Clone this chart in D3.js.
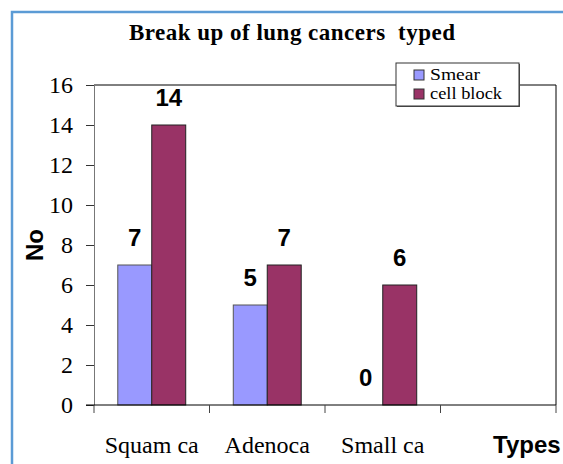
<!DOCTYPE html>
<html>
<head>
<meta charset="utf-8">
<script src="https://cdn.jsdelivr.net/npm/d3@7"></script>
<style>
  body { margin: 0; background: #fff; }
  svg { display: block; }
</style>
</head>
<body>
<div class="container"></div>
<script>
(function(){

    // chart data
    var categories = ["Squam ca", "Adenoca", "Small ca", ""];
    var seriesNames = ["Smear", "cell block"];
    var smear = [7, 5, 0, null];
    var cellBlock = [14, 7, 6, null];
    var yTicks = [0, 2, 4, 6, 8, 10, 12, 14, 16];
    var colors = ["#9999ff", "#993366"];

    var W = 563, H = 464;
    var left = 94, right = 556, top = 85, bottom = 405;

    var svg = d3.select(".container").append("svg")
        .attr("width", W)
        .attr("height", H);

    // outer frame
    svg.append("rect")
        .attr("x", 12).attr("y", 12)
        .attr("width", W + 10).attr("height", H + 10)
        .attr("fill", "none")
        .attr("stroke", "#5b9bd5")
        .attr("stroke-width", 2.5);

    var x = d3.scaleBand()
        .domain(categories)
        .range([left, right]);

    var x1 = d3.scaleBand()
        .domain(seriesNames)
        .range([0, x.bandwidth()])
        .paddingInner(0)
        .paddingOuter(0.7);

    var y = d3.scaleLinear()
        .domain([0, 16])
        .range([bottom, top]);

    // plot area border (top, right)
    svg.append("path")
        .attr("d", "M" + left + "," + top + "H" + right + "V" + bottom)
        .attr("fill", "none")
        .attr("stroke", "#000")
        .attr("stroke-width", 1);

    // bars
    var rows = categories.map(function(c, i) {
        return { cat: c, vals: [smear[i], cellBlock[i]] };
    });

    var groups = svg.selectAll("g.cat")
        .data(rows)
        .enter().append("g")
        .attr("class", "cat")
        .attr("transform", function(d) { return "translate(" + x(d.cat) + ",0)"; });

    groups.selectAll("rect")
        .data(function(d) {
            return d.vals.map(function(v, j) { return { name: seriesNames[j], v: v, j: j }; })
                .filter(function(e) { return e.v !== null && e.v > 0; });
        })
        .enter().append("rect")
        .attr("x", function(d) { return x1(d.name); })
        .attr("y", function(d) { return y(d.v); })
        .attr("width", x1.bandwidth())
        .attr("height", function(d) { return y(0) - y(d.v); })
        .attr("fill", function(d) { return colors[d.j]; })
        .attr("stroke", function(d) { return d.j === 0 ? "#555" : "#222"; })
        .attr("stroke-width", 1);

    groups.selectAll("text.val")
        .data(function(d) {
            return d.vals.map(function(v, j) { return { name: seriesNames[j], v: v }; })
                .filter(function(e) { return e.v !== null; });
        })
        .enter().append("text")
        .attr("class", "val")
        .attr("x", function(d) { return x1(d.name) + x1.bandwidth() / 2; })
        .attr("y", function(d) { return y(d.v) - 19; })
        .attr("text-anchor", "middle")
        .style("font-family", "'Liberation Sans', Arial, sans-serif")
        .style("font-weight", "bold")
        .style("font-size", "24px")
        .text(function(d) { return d.v; });

    // y axis
    var yAxis = svg.append("g")
        .attr("transform", "translate(" + left + ",0)")
        .call(d3.axisLeft(y).tickValues(yTicks).tickSize(8).tickPadding(13).tickSizeOuter(0));
    yAxis.select(".domain").attr("stroke", "#777");
    yAxis.selectAll(".tick line").attr("stroke", "#333");
    yAxis.selectAll("text")
        .attr("fill", "#000")
        .style("font-family", "'Liberation Serif', 'Times New Roman', serif")
        .style("font-size", "24px");

    // x axis: ticks on band boundaries
    svg.append("line")
        .attr("x1", left - 8).attr("x2", right)
        .attr("y1", bottom).attr("y2", bottom)
        .attr("stroke", "#000");

    var bounds = categories.map(function(c) { return x(c); }).concat([x.range()[1]]);
    svg.selectAll("line.xtick")
        .data(bounds)
        .enter().append("line")
        .attr("class", "xtick")
        .attr("x1", function(d) { return d; }).attr("x2", function(d) { return d; })
        .attr("y1", bottom).attr("y2", bottom + 8)
        .attr("stroke", "#444");

    svg.selectAll("text.cat")
        .data(categories)
        .enter().append("text")
        .attr("class", "cat")
        .attr("x", function(d) { return x(d) + x.bandwidth() / 2; })
        .attr("y", 453)
        .attr("text-anchor", "middle")
        .style("font-family", "'Liberation Serif', 'Times New Roman', serif")
        .style("font-size", "24px")
        .text(function(d) { return d; });

    // title
    svg.append("text")
        .attr("x", 292).attr("y", 40)
        .attr("text-anchor", "middle")
        .attr("textLength", 326)
        .attr("lengthAdjust", "spacing")
        .style("white-space", "pre")
        .style("font-family", "'Liberation Serif', 'Times New Roman', serif")
        .style("font-weight", "bold")
        .style("font-size", "23px")
        .text("Break up of lung cancers  typed");

    // axis titles
    svg.append("text")
        .attr("transform", "translate(43,245) rotate(-90)")
        .attr("text-anchor", "middle")
        .style("font-family", "'Liberation Sans', Arial, sans-serif")
        .style("font-weight", "bold")
        .style("font-size", "24px")
        .text("No");

    svg.append("text")
        .attr("x", 493).attr("y", 453)
        .style("font-family", "'Liberation Sans', Arial, sans-serif")
        .style("font-weight", "bold")
        .style("font-size", "24px")
        .text("Types");

    // legend
    var legendWidths = [50, 72];
    var legend = svg.append("g")
        .attr("transform", "translate(396,63)");
    legend.append("rect")
        .attr("x", 1).attr("y", 1)
        .attr("width", 123).attr("height", 43)
        .attr("fill", "#555");
    legend.append("rect")
        .attr("width", 123).attr("height", 43)
        .attr("fill", "#fff")
        .attr("stroke", "#333");

    var items = legend.selectAll("g.item")
        .data(seriesNames)
        .enter().append("g")
        .attr("class", "item")
        .attr("transform", function(d, i) { return "translate(0," + (12 + i * 19) + ")"; });
    items.append("rect")
        .attr("x", 18).attr("y", -5)
        .attr("width", 10).attr("height", 10)
        .attr("fill", function(d, i) { return colors[i]; })
        .attr("stroke", "#333");
    items.append("text")
        .attr("x", 34).attr("y", 5)
        .attr("textLength", function(d, i) { return legendWidths[i]; })
        .attr("lengthAdjust", "spacingAndGlyphs")
        .style("font-family", "'Liberation Serif', 'Times New Roman', serif")
        .style("font-size", "16.5px")
        .text(function(d) { return d; });

})();
</script>
</body>
</html>
